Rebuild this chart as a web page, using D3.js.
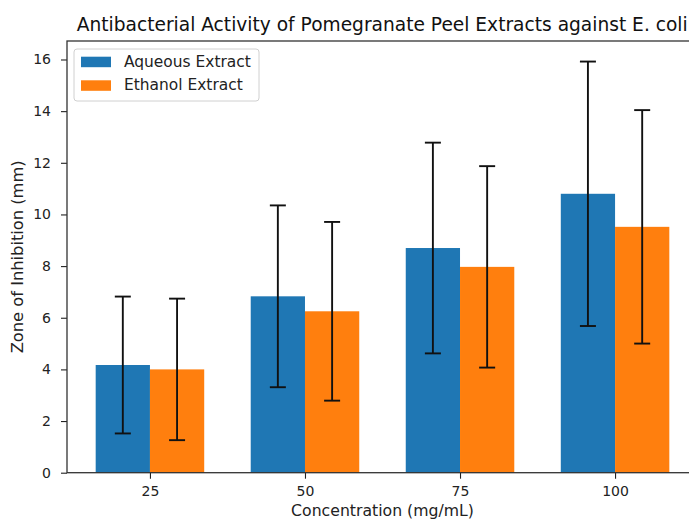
<!DOCTYPE html>
<html>
<head>
<meta charset="utf-8">
<script src="https://cdn.jsdelivr.net/npm/d3@7"></script>
<style>
  html, body { margin: 0; padding: 0; background: #fff; }
  svg { display: block; font-family: "DejaVu Sans", sans-serif; }
</style>
</head>
<body>
<svg id="chart" width="689" height="519"></svg>
<script>
// ---- data ----
const categories = ["25", "50", "75", "100"];
const seriesNames = ["Aqueous Extract", "Ethanol Extract"];
const aqueousMean = [4.17, 6.83, 8.70, 10.80];
const aqueousErr  = [2.65, 3.52, 4.08, 5.12];
const ethanolMean = [4.00, 6.25, 7.97, 9.52];
const ethanolErr  = [2.74, 3.46, 3.90, 4.52];
const yTicks = [0, 2, 4, 6, 8, 10, 12, 14, 16];
const colors = ["#1f77b4", "#ff7f0e"];

const title = "Antibacterial Activity of Pomegranate Peel Extracts against E. coli";
const xLabel = "Concentration (mg/mL)";
const yLabel = "Zone of Inhibition (mm)";

const series = [
  { name: seriesNames[0], mean: aqueousMean, err: aqueousErr, color: colors[0] },
  { name: seriesNames[1], mean: ethanolMean, err: ethanolErr, color: colors[1] }
];

// ---- layout ----
const svg = d3.select("#chart");
const pL = 67, pR = 698, pT = 41, pB = 472.7;

const barW = 0.35;
const x = d3.scaleLinear().domain([-0.535, 3.535]).range([pL, pR]);
const yMax = d3.max(series, s => d3.max(s.mean, (m, i) => m + s.err[i])) * 1.05;
const y = d3.scaleLinear().domain([0, yMax]).range([pB, pT]);

const g = svg.append("g");

// bars
series.forEach((s, si) => {
  const off = si === 0 ? -barW / 2 : barW / 2;
  g.selectAll(null).data(s.mean).enter().append("rect")
    .attr("x", (d, i) => x(i + off - barW / 2))
    .attr("width", (d, i) => x(i + off + barW / 2) - x(i + off - barW / 2))
    .attr("y", d => y(d))
    .attr("height", d => y(0) - y(d))
    .attr("fill", s.color);
});

// error bars
series.forEach((s, si) => {
  const off = si === 0 ? -barW / 2 : barW / 2;
  const eg = g.append("g").attr("stroke", "#111").attr("stroke-width", 1.9).attr("fill", "none");
  s.mean.forEach((m, i) => {
    const cx = x(i + off);
    const lo = y(m - s.err[i]), hi = y(m + s.err[i]);
    eg.append("line").attr("x1", cx).attr("x2", cx).attr("y1", lo).attr("y2", hi);
    eg.append("line").attr("x1", cx - 8).attr("x2", cx + 8).attr("y1", lo).attr("y2", lo);
    eg.append("line").attr("x1", cx - 8).attr("x2", cx + 8).attr("y1", hi).attr("y2", hi);
  });
});

// axes
const xAxis = d3.axisBottom(x)
  .tickValues(categories.map((c, i) => i))
  .tickFormat(i => categories[i])
  .tickSize(6).tickPadding(7);
const yAxis = d3.axisLeft(y)
  .tickValues(yTicks)
  .tickFormat(d3.format("d"))
  .tickSize(6).tickPadding(10);

const gx = svg.append("g").attr("transform", `translate(0,${pB})`).call(xAxis);
const gy = svg.append("g").attr("transform", `translate(${pL},0)`).call(yAxis);
[gx, gy].forEach(a => {
  a.select(".domain").remove();
  a.selectAll(".tick line").attr("stroke", "#222").attr("stroke-width", 1.1);
  a.selectAll(".tick text").attr("fill", "#222").style("font-size", "14px")
    .style("font-family", "'DejaVu Sans', sans-serif");
});

// spines
svg.append("rect")
  .attr("x", pL).attr("y", pT)
  .attr("width", pR - pL).attr("height", pB - pT)
  .attr("fill", "none").attr("stroke", "#333").attr("stroke-width", 1.3);

// title
function fit(sel, w) {
  const cur = parseFloat(sel.style("font-size"));
  const len = sel.node().getComputedTextLength();
  sel.style("font-size", (cur * w / len) + "px");
}
const t = svg.append("text")
  .attr("x", (76.7 + 687.7) / 2).attr("y", 30.5)
  .attr("text-anchor", "middle").attr("fill", "#111")
  .style("font-size", "17px").text(title);
fit(t, 611);

// axis labels
const xl = svg.append("text")
  .attr("x", (pL + pR) / 2).attr("y", 516)
  .attr("text-anchor", "middle").attr("fill", "#222")
  .style("font-size", "14px").text(xLabel);
fit(xl, 183);

const yl = svg.append("text")
  .attr("transform", `translate(23,${(pT + pB) / 2}) rotate(-90)`)
  .attr("text-anchor", "middle").attr("fill", "#222")
  .style("font-size", "14px").text(yLabel);
fit(yl, 193);

// legend
const lg = svg.append("g");
lg.append("rect")
  .attr("x", 74).attr("y", 49).attr("width", 185).attr("height", 52)
  .attr("rx", 3).attr("fill", "#fff").attr("fill-opacity", 0.8)
  .attr("stroke", "#d0d0d0").attr("stroke-width", 1);
let legendFont = null;
series.forEach((s, i) => {
  const cy = 61.7 + i * 23.6;
  lg.append("rect").attr("x", 81).attr("y", cy - 5).attr("width", 30).attr("height", 10.5)
    .attr("fill", s.color);
  const tx = lg.append("text").attr("x", 124).attr("y", cy + 5)
    .attr("fill", "#222").style("font-size", "14px").text(s.name);
  if (i === 0) { fit(tx, 127); legendFont = tx.style("font-size"); }
  else tx.style("font-size", legendFont);
});
</script>
</body>
</html>
